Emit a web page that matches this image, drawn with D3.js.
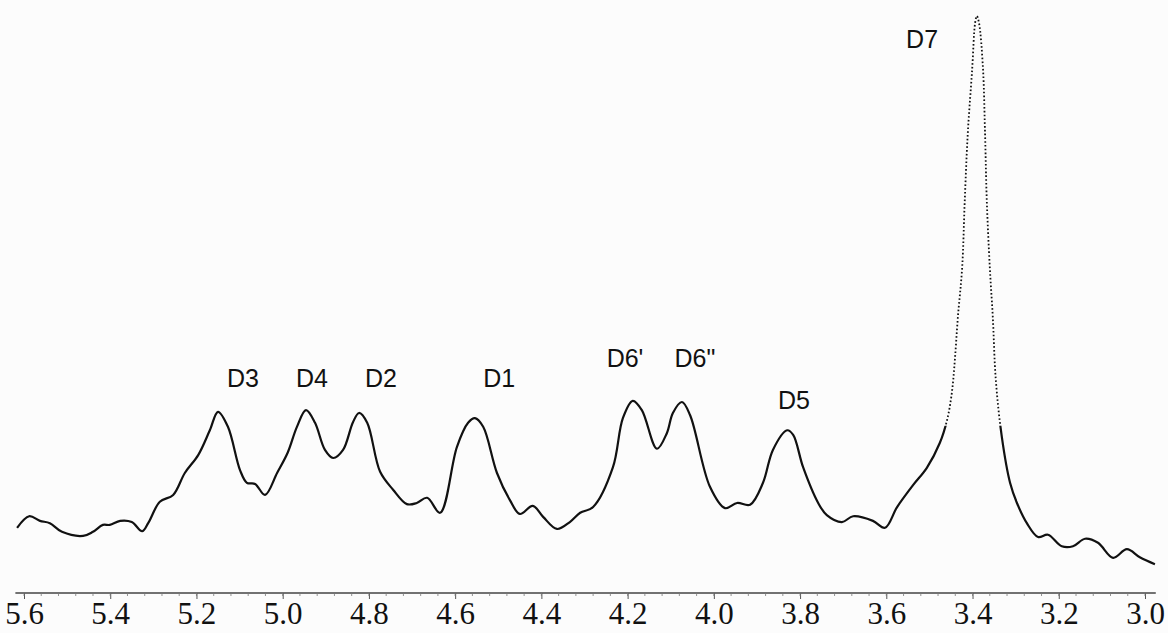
<!DOCTYPE html>
<html>
<head>
<meta charset="utf-8">
<script src="https://cdn.jsdelivr.net/npm/d3@7"></script>
<style>
  html, body { margin: 0; padding: 0; background: #fcfcfc; }
  svg { display: block; }
</style>
</head>
<body>
<svg id="chart" width="1168" height="633"></svg>
<script>
// chemical shift (ppm) of traced spectrum points
const shiftPpm = [5.616,5.588,5.563,5.540,5.512,5.463,5.440,5.417,5.401,5.377,5.350,5.326,5.312,5.285,5.254,5.227,5.196,5.169,5.150,5.127,5.099,5.083,5.064,5.041,5.013,4.988,4.967,4.946,4.925,4.902,4.883,4.860,4.837,4.823,4.804,4.774,4.744,4.712,4.689,4.665,4.635,4.596,4.570,4.554,4.535,4.503,4.473,4.450,4.420,4.396,4.364,4.334,4.310,4.280,4.234,4.211,4.188,4.167,4.132,4.109,4.095,4.074,4.055,4.009,3.974,3.946,3.916,3.886,3.863,3.830,3.816,3.793,3.758,3.738,3.703,3.677,3.631,3.603,3.575,3.538,3.506,3.476,3.459,3.448,3.441,3.434,3.424,3.418,3.411,3.401,3.394,3.390,3.385,3.376,3.371,3.367,3.360,3.353,3.346,3.332,3.313,3.297,3.274,3.248,3.225,3.193,3.167,3.139,3.109,3.074,3.042,3.012,2.977];
// relative intensity (D7 maximum = 100)
const intensity = [11.3,13.3,12.5,12.1,10.6,9.9,10.6,11.8,11.8,12.5,12.3,10.7,12.1,15.8,17.0,20.8,23.9,28.2,31.4,28.8,21.3,19.1,18.9,17.0,20.8,24.4,28.8,31.7,29.5,24.8,23.4,24.8,29.6,31.2,29.5,21.0,17.9,15.4,15.6,16.5,13.9,25.3,29.5,30.3,28.8,20.8,16.1,13.7,15.1,13.2,11.1,12.3,13.9,14.9,21.8,30.3,33.3,31.7,25.0,27.7,31.2,33.1,30.8,18.4,14.7,15.6,15.3,19.1,24.8,28.2,27.4,21.8,15.6,13.5,12.3,13.3,12.5,11.3,14.9,18.7,21.7,26.0,30.0,34.7,40.4,47.8,56.5,68.1,79.7,90.6,98.8,100,98.8,91.2,79.7,68.1,56.5,47.8,36.9,27.0,19.1,15.6,12.1,9.7,10.1,8.1,8.1,9.4,8.7,6.1,7.6,6.2,5.0];

// peak labels
const peakNames = ["D3","D4","D2","D1","D6'","D6\"","D5","D7"];
const peakLabelPpm = [5.092,4.932,4.772,4.498,4.206,4.044,3.814,3.517];
const peakLabelLevel = [35.7,35.7,35.7,35.7,39.2,39.2,31.9,94.5];

// axis ticks
const majorTicks = [5.6,5.4,5.2,5.0,4.8,4.6,4.4,4.2,4.0,3.8,3.6,3.4,3.2,3.0];
const tickLabels = ["5.6","5.4","5.2","5.0","4.8","4.6","4.4","4.2","4.0","3.8","3.6","3.4","3.2","3.0"];

const W = 1168, H = 633;
const svg = d3.select("#chart");
const x = d3.scaleLinear().domain([5.6, 3.0]).range([24, 1145]);
const y = d3.scaleLinear().domain([0, 100]).range([593, 16]);

const pts = shiftPpm.map((p, i) => [p, intensity[i]]);
const line = d3.line()
  .x(d => x(d[0]))
  .y(d => y(d[1]))
  .curve(d3.curveCatmullRom.alpha(0.5));

// the steep D7 flanks were drawn as a dotted trace (plotter pen artefact)
const xa = x(3.475), xb = x(3.30), thr = y(29);
const defs = svg.append("defs");
const low = defs.append("clipPath").attr("id", "lowClip");
low.append("rect").attr("x", 0).attr("y", 0).attr("width", xa).attr("height", H);
low.append("rect").attr("x", xb).attr("y", 0).attr("width", W - xb).attr("height", H);
low.append("rect").attr("x", xa).attr("y", thr).attr("width", xb - xa).attr("height", H - thr);
defs.append("clipPath").attr("id", "highClip")
  .append("rect").attr("x", xa).attr("y", 0).attr("width", xb - xa).attr("height", thr);

svg.append("path")
  .datum(pts)
  .attr("d", line)
  .attr("fill", "none")
  .attr("stroke", "#111")
  .attr("stroke-width", 2.2)
  .attr("stroke-linejoin", "round")
  .attr("clip-path", "url(#lowClip)");

svg.append("path")
  .datum(pts)
  .attr("d", line)
  .attr("fill", "none")
  .attr("stroke", "#111")
  .attr("stroke-width", 1.8)
  .attr("stroke-dasharray", "1.6 2.2")
  .attr("clip-path", "url(#highClip)");

// x axis
const minorTicks = d3.range(0, 66).map(i => +(5.6 - i * 0.04).toFixed(2));
const axis = d3.axisBottom(x)
  .tickValues(majorTicks)
  .tickFormat((d, i) => tickLabels[i])
  .tickSize(6)
  .tickPadding(3);

const axisG = svg.append("g")
  .attr("transform", `translate(0,${y(0)})`)
  .call(axis);
axisG.attr("font-size", null).attr("font-family", null);
axisG.select(".domain")
  .attr("d", `M${x(5.62)},0H${x(2.975)}`)
  .attr("stroke", "#444")
  .attr("stroke-width", 1.3);
axisG.selectAll(".tick line").attr("stroke", "#555").attr("stroke-width", 1);
axisG.selectAll(".tick text")
  .style("font-family", "'Liberation Serif', 'Times New Roman', serif")
  .style("font-size", "31px")
  .attr("fill", "#111");

svg.append("g")
  .attr("transform", `translate(0,${y(0)})`)
  .selectAll("line")
  .data(minorTicks)
  .join("line")
  .attr("x1", d => x(d)).attr("x2", d => x(d))
  .attr("y1", 0).attr("y2", 3)
  .attr("stroke", "#777")
  .attr("stroke-width", 0.8);

// peak labels
svg.append("g")
  .selectAll("text")
  .data(peakNames)
  .join("text")
  .attr("x", (d, i) => x(peakLabelPpm[i]))
  .attr("y", (d, i) => y(peakLabelLevel[i]))
  .attr("text-anchor", "middle")
  .style("font-family", "'Liberation Sans', Arial, Helvetica, sans-serif")
  .style("font-size", "25px")
  .attr("fill", "#111")
  .text(d => d);
</script>
</body>
</html>
